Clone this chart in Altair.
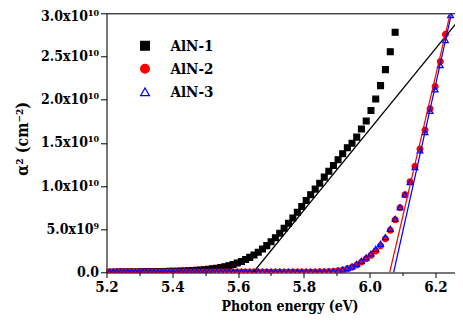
import altair as alt
import pandas as pd

# Photon energies (eV) of the measured points
energy = [
    5.2094, 5.2204, 5.2314, 5.2425, 5.2536, 5.2647, 5.2759, 5.2871, 5.2985, 5.3098,
    5.3212, 5.3327, 5.3441, 5.3557, 5.3673, 5.3789, 5.3906, 5.4024, 5.4142, 5.4260,
    5.4379, 5.4499, 5.4619, 5.4739, 5.4860, 5.4982, 5.5104, 5.5227, 5.5350, 5.5474,
    5.5598, 5.5723, 5.5849, 5.5975, 5.6102, 5.6229, 5.6356, 5.6485, 5.6614, 5.6743,
    5.6873, 5.7004, 5.7136, 5.7268, 5.7400, 5.7533, 5.7667, 5.7802, 5.7937, 5.8072,
    5.8208, 5.8345, 5.8483, 5.8621, 5.8760, 5.8900, 5.9040, 5.9181, 5.9323, 5.9465,
    5.9608, 5.9751, 5.9896, 6.0041, 6.0186, 6.0333, 6.0480, 6.0628, 6.0776, 6.0926,
    6.1076, 6.1228, 6.1379, 6.1531, 6.1684, 6.1837, 6.1992, 6.2148, 6.2304, 6.2461,
]

# alpha^2 in units of 1e10 cm^-2
aln1 = [
    0.004, 0.004, 0.005, 0.005, 0.005, 0.006, 0.006, 0.007, 0.007, 0.008,
    0.008, 0.009, 0.009, 0.010, 0.011, 0.012, 0.013, 0.014, 0.015, 0.016,
    0.018, 0.020, 0.022, 0.025, 0.028, 0.032, 0.036, 0.042, 0.049, 0.057,
    0.067, 0.079, 0.093, 0.109, 0.128, 0.150, 0.175, 0.203, 0.235, 0.271,
    0.311, 0.355, 0.403, 0.455, 0.511, 0.570, 0.632, 0.697, 0.764, 0.834,
    0.900, 0.965, 1.034, 1.104, 1.173, 1.239, 1.305, 1.374, 1.444, 1.497,
    1.567, 1.660, 1.753, 1.876, 2.007, 2.163, 2.348, 2.556, 2.780,
]
aln2 = [0.007] * 52 + [
    0.008, 0.009, 0.010, 0.013, 0.019, 0.028, 0.042, 0.062,
    0.088, 0.120, 0.158, 0.200, 0.250, 0.310, 0.390, 0.490, 0.610, 0.750,
    0.900, 1.050, 1.230, 1.430, 1.650, 1.896, 2.154, 2.443, 2.756, 3.050,
]
aln3 = [0.008] * 51 + [
    0.009, 0.009, 0.010, 0.012, 0.016, 0.023, 0.034, 0.050, 0.072,
    0.100, 0.135, 0.175, 0.220, 0.274, 0.332, 0.409, 0.506, 0.622, 0.756,
    0.903, 1.046, 1.219, 1.413, 1.625, 1.870, 2.120, 2.400, 2.690, 2.980,
]

series_names = ["AlN-1", "AlN-2", "AlN-3"]
series_stroke = ["#000000", "#ff0000", "#0000ff"]
series_fill = ["#000000", "#ff0000", "transparent"]
series_shape = ["square", "circle", "triangle-up"]

# Linear fits (x-intercept and point at top of axis)
fit_e0 = [5.646, 6.061, 6.073]
fit_e1 = [6.288, 6.245, 6.249]
fit_y0 = [0.0, 0.0, 0.0]
fit_y1 = [3.0, 3.0, 3.0]

x_tick_values = [5.2, 5.3, 5.4, 5.5, 5.6, 5.7, 5.8, 5.9, 6.0, 6.1, 6.2]
x_tick_labels = ["5.2", "", "5.4", "", "5.6", "", "5.8", "", "6.0", "", "6.2"]
y_tick_values = [0, 2.5e9, 5e9, 7.5e9, 1e10, 1.25e10, 1.5e10, 1.75e10,
                 2e10, 2.25e10, 2.5e10, 2.75e10, 3e10]
y_tick_labels = ["0.0", "", "5.0x10\u2079", "", "1.0x10\u00b9\u2070", "",
                 "1.5x10\u00b9\u2070", "", "2.0x10\u00b9\u2070", "",
                 "2.5x10\u00b9\u2070", "", "3.0x10\u00b9\u2070"]

rows = []
for name, vals in zip(series_names, [aln1, aln2, aln3]):
    for e, v in zip(energy, vals):
        rows.append({"E": e, "a2": v * 1e10, "series": name})
pts = pd.DataFrame(rows)

fits = pd.DataFrame({
    "fit": series_names,
    "e0": fit_e0, "e1": fit_e1,
    "y0": [v * 1e10 for v in fit_y0], "y1": [v * 1e10 for v in fit_y1],
})

FONT = "DejaVu Serif Condensed, DejaVu Serif"

def js_list(lst):
    return "[" + ",".join("'" + s + "'" for s in lst) + "]"

x_label_expr = js_list(x_tick_labels) + "[round((datum.value-5.2)*10)]"
y_label_expr = js_list(y_tick_labels) + "[round(datum.value/2.5e9)]"

xscale = alt.Scale(domain=[5.2, 6.2596], nice=False, zero=False)
yscale = alt.Scale(domain=[0, 3e10], nice=False, zero=False)

x_axis = alt.Axis(
    values=x_tick_values, labelExpr=x_label_expr, title="Photon energy (eV)",
    grid=False, domainColor="black", tickColor="black",
    tickSize={"condition": {"test": "round((datum.value-5.2)*10) % 2 == 0", "value": 5}, "value": 3},
    labelFont=FONT, labelFontWeight="bold", labelFontSize=15, labelColor="black",
    labelPadding=2, labelFlush=False,
    titleFont=FONT, titleFontWeight="bold", titleFontSize=14, titleColor="black",
    titleX=183, titleY=38, titleBaseline="alphabetic",
)
x_axis_top = alt.Axis(
    orient="top", values=x_tick_values, labels=False, ticks=False, title=None,
    grid=False, domainColor="black",
)
y_axis = alt.Axis(
    values=y_tick_values, labelExpr=y_label_expr, title="\u03b1\u00b2 (cm\u207b\u00b2)",
    grid=False, domainColor="black", tickColor="black",
    tickSize={"condition": {"test": "round(datum.value/2.5e9) % 2 == 0", "value": 6}, "value": 3},
    labelFont=FONT, labelFontWeight="bold", labelFontSize=14, labelColor="black",
    labelPadding=2, labelFlush=False,
    labelOffset={"condition": {"test": "datum.value >= 2.9e10", "value": 3}, "value": 0},
    titleFont=FONT, titleFontWeight="bold", titleFontSize=16, titleColor="black",
    titleAngle=270, titleX=-84, titleY=125, titleAlign="center", titleBaseline="middle",
)

legend = alt.Legend(
    title=None, orient="none", legendX=31, legendY=25, padding=0,
    labelFont=FONT, labelFontWeight="bold", labelFontSize=15, labelColor="black",
    labelOffset=18, rowPadding=7, symbolSize=75, symbolStrokeWidth=1.3,
)

points = alt.Chart(pts).mark_point(opacity=1, size=34, strokeWidth=1.2, clip=True).encode(
    x=alt.X("E:Q", scale=xscale, axis=x_axis),
    y=alt.Y("a2:Q", scale=yscale, axis=y_axis),
    fill=alt.Fill("series:N", scale=alt.Scale(domain=series_names, range=series_fill), legend=legend),
    stroke=alt.Stroke("series:N", scale=alt.Scale(domain=series_names, range=series_stroke), legend=legend),
    shape=alt.Shape("series:N", scale=alt.Scale(domain=series_names, range=series_shape), legend=legend),
)

lines = alt.Chart(fits).mark_rule(strokeWidth=1.2, clip=True).encode(
    x=alt.X("e0:Q", scale=xscale, axis=x_axis_top),
    x2="e1:Q",
    y=alt.Y("y0:Q", scale=yscale),
    y2="y1:Q",
    color=alt.Color("fit:N", scale=alt.Scale(domain=series_names, range=series_stroke), legend=None),
)

chart = alt.layer(points, lines).resolve_axis(x="independent").properties(
    width=348.5, height=259.2,
    padding={"left": 98.5, "top": 5.3, "right": 0, "bottom": 41},
    autosize="none",
).configure_view(strokeWidth=0).configure(background="white")

chart.save("out.html", embed_options={"renderer": "svg", "actions": False})
